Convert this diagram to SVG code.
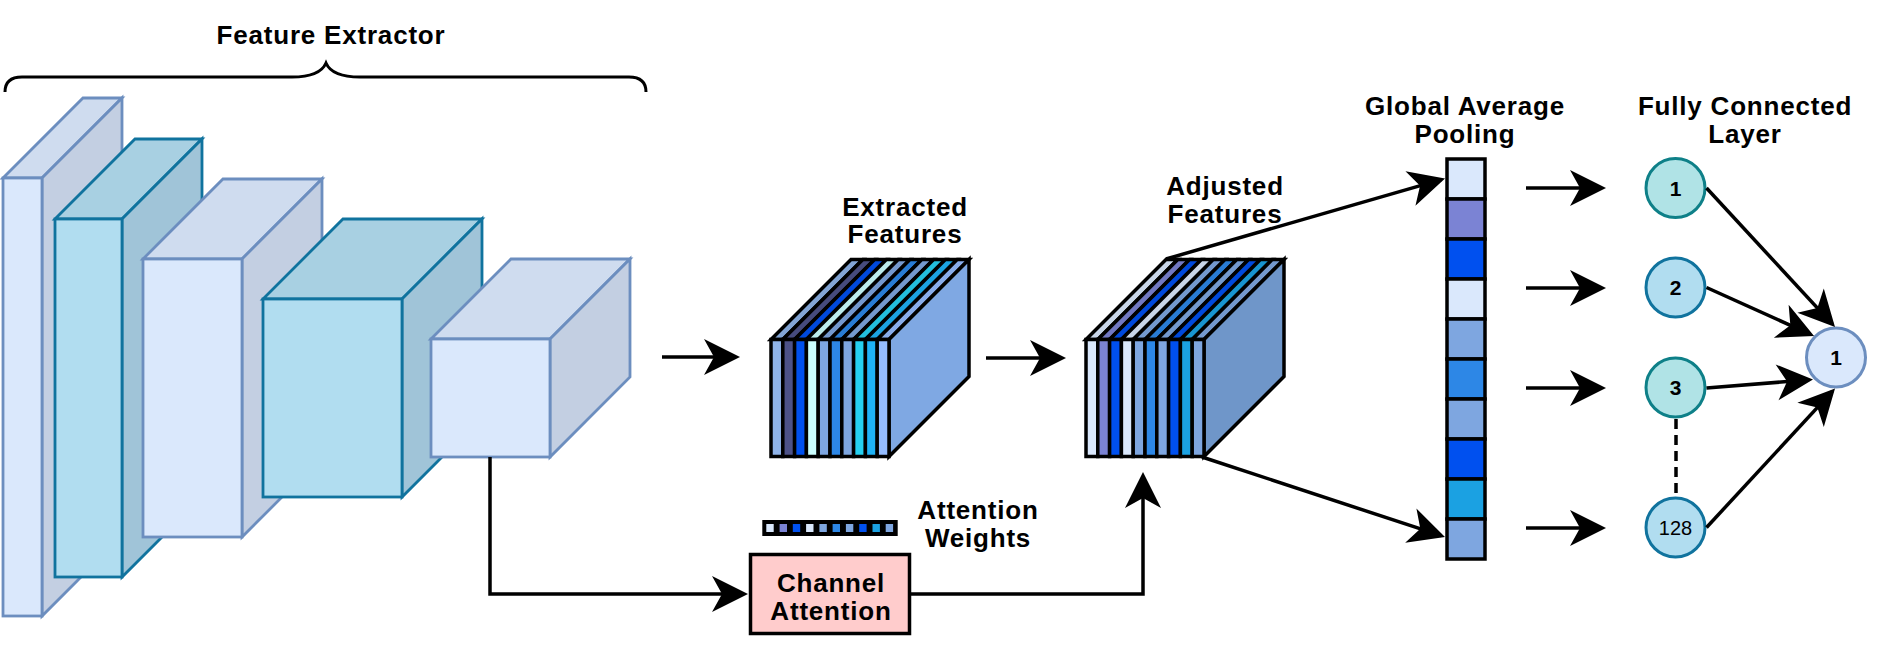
<svg xmlns="http://www.w3.org/2000/svg" width="1884" height="672" viewBox="0 0 1884 672">
<style>
.t{font-family:"Liberation Sans",Arial,Helvetica,sans-serif;font-weight:bold;font-size:26px;letter-spacing:0.8px;fill:#000;text-anchor:middle}
.n{font-family:"Liberation Sans",Arial,Helvetica,sans-serif;font-weight:bold;font-size:21px;fill:#000;text-anchor:middle}
.lf{fill:#dae8fc;stroke:#6c8ebf;stroke-width:2.8;stroke-linejoin:miter}
.lt{fill:#cfdcef;stroke:#6c8ebf;stroke-width:2.8}
.ls{fill:#c3cfe2;stroke:#6c8ebf;stroke-width:2.8}
.bf{fill:#b1ddf0;stroke:#10739e;stroke-width:2.8}
.bt{fill:#a8d0e2;stroke:#10739e;stroke-width:2.8}
.bs{fill:#a0c4d8;stroke:#10739e;stroke-width:2.8}
.st{stroke:#000;stroke-width:3.5;stroke-linejoin:miter}
.c{fill:none;stroke:#000;stroke-width:3.5;marker-end:url(#arr)}
</style>
<defs>
<marker id="arr" markerUnits="userSpaceOnUse" markerWidth="44" markerHeight="40" viewBox="-38 -20 44 40" refX="-4" refY="0" orient="auto" overflow="visible">
<path d="M0,0 L-36,-18 L-26,0 L-36,18 Z" fill="#000"/>
</marker>
</defs>
<rect width="1884" height="672" fill="#fff"/>

<g id="feature-extractor-label">
<text class="t" x="331" y="43.7">Feature Extractor</text>
<path d="M5,92 Q5,77 22,77 L292,77 Q320,77 326,63 Q332,77 360,77 L629,77 Q646,77 646,92" fill="none" stroke="#000" stroke-width="3"/>
</g>

<g id="cube1">
<polygon class="lt" points="3,178 83,98 122,98 42,178"/>
<polygon class="ls" points="42,178 122,98 122,536 42,616"/>
<rect class="lf" x="3" y="178" width="39" height="438"/>
</g>
<g id="cube2">
<polygon class="bt" points="55,219 135,139 202,139 122,219"/>
<polygon class="bs" points="122,219 202,139 202,497 122,577"/>
<rect class="bf" x="55" y="219" width="67" height="358"/>
</g>
<g id="cube3">
<polygon class="lt" points="143,259 223,179 322,179 242,259"/>
<polygon class="ls" points="242,259 322,179 322,457 242,537"/>
<rect class="lf" x="143" y="259" width="99" height="278"/>
</g>
<g id="cube4">
<polygon class="bt" points="263,299 343,219 482,219 402,299"/>
<polygon class="bs" points="402,299 482,219 482,417 402,497"/>
<rect class="bf" x="263" y="299" width="139" height="198"/>
</g>
<g id="cube5">
<polygon class="lt" points="431,339 511,259 630,259 550,339"/>
<polygon class="ls" points="550,339 630,259 630,377 550,457"/>
<rect class="lf" x="431" y="339" width="119" height="118"/>
</g>

<g id="extracted-features">
<text class="t" x="905" y="216">Extracted</text>
<text class="t" x="905" y="243.3">Features</text>
<g class="st">
<polygon fill="#8fb3e8" points="771,339.5 782.8,339.5 862.8,259.5 851,259.5"/>
<polygon fill="#4d5288" points="782.8,339.5 794.6,339.5 874.6,259.5 862.8,259.5"/>
<polygon fill="#0050ef" points="794.6,339.5 806.4,339.5 886.4,259.5 874.6,259.5"/>
<polygon fill="#ccffff" points="806.4,339.5 818.2,339.5 898.2,259.5 886.4,259.5"/>
<polygon fill="#7ea6e0" points="818.2,339.5 830,339.5 910,259.5 898.2,259.5"/>
<polygon fill="#2d87e6" points="830,339.5 841.8,339.5 921.8,259.5 910,259.5"/>
<polygon fill="#7ea6e0" points="841.8,339.5 853.6,339.5 933.6,259.5 921.8,259.5"/>
<polygon fill="#26d0f0" points="853.6,339.5 865.4,339.5 945.4,259.5 933.6,259.5"/>
<polygon fill="#1fb2f6" points="865.4,339.5 877.2,339.5 957.2,259.5 945.4,259.5"/>
<polygon fill="#94bcff" points="877.2,339.5 889,339.5 969,259.5 957.2,259.5"/>
</g>
<polygon points="771,339.5 889,339.5 969,259.5 851,259.5" fill="#000" fill-opacity="0.08"/>
<polygon class="st" fill="#7fa8e3" points="889,339.5 969,259.5 969,376.5 889,456.5"/>
<g class="st">
<rect fill="#8fb3e8" x="771" y="339.5" width="11.8" height="117"/>
<rect fill="#4d5288" x="782.8" y="339.5" width="11.8" height="117"/>
<rect fill="#0050ef" x="794.6" y="339.5" width="11.8" height="117"/>
<rect fill="#ccffff" x="806.4" y="339.5" width="11.8" height="117"/>
<rect fill="#7ea6e0" x="818.2" y="339.5" width="11.8" height="117"/>
<rect fill="#2d87e6" x="830" y="339.5" width="11.8" height="117"/>
<rect fill="#7ea6e0" x="841.8" y="339.5" width="11.8" height="117"/>
<rect fill="#26d0f0" x="853.6" y="339.5" width="11.8" height="117"/>
<rect fill="#1fb2f6" x="865.4" y="339.5" width="11.8" height="117"/>
<rect fill="#94bcff" x="877.2" y="339.5" width="11.8" height="117"/>
</g>
</g>

<g id="adjusted-features">
<text class="t" x="1225" y="195">Adjusted</text>
<text class="t" x="1225" y="223">Features</text>
<g transform="translate(315,0)">
<g class="st">
<polygon fill="#dae8fc" points="771,339.5 782.8,339.5 862.8,259.5 851,259.5"/>
<polygon fill="#7b83d4" points="782.8,339.5 794.6,339.5 874.6,259.5 862.8,259.5"/>
<polygon fill="#0050ef" points="794.6,339.5 806.4,339.5 886.4,259.5 874.6,259.5"/>
<polygon fill="#dae8fc" points="806.4,339.5 818.2,339.5 898.2,259.5 886.4,259.5"/>
<polygon fill="#7ea6e0" points="818.2,339.5 830,339.5 910,259.5 898.2,259.5"/>
<polygon fill="#2d87e6" points="830,339.5 841.8,339.5 921.8,259.5 910,259.5"/>
<polygon fill="#7ea6e0" points="841.8,339.5 853.6,339.5 933.6,259.5 921.8,259.5"/>
<polygon fill="#0050ef" points="853.6,339.5 865.4,339.5 945.4,259.5 933.6,259.5"/>
<polygon fill="#1ba1e2" points="865.4,339.5 877.2,339.5 957.2,259.5 945.4,259.5"/>
<polygon fill="#7ea6e0" points="877.2,339.5 889,339.5 969,259.5 957.2,259.5"/>
</g>
<polygon points="771,339.5 889,339.5 969,259.5 851,259.5" fill="#000" fill-opacity="0.08"/>
<polygon class="st" fill="#6f96c9" points="889,339.5 969,259.5 969,376.5 889,456.5"/>
<g class="st">
<rect fill="#dae8fc" x="771" y="339.5" width="11.8" height="117"/>
<rect fill="#7b83d4" x="782.8" y="339.5" width="11.8" height="117"/>
<rect fill="#0050ef" x="794.6" y="339.5" width="11.8" height="117"/>
<rect fill="#dae8fc" x="806.4" y="339.5" width="11.8" height="117"/>
<rect fill="#7ea6e0" x="818.2" y="339.5" width="11.8" height="117"/>
<rect fill="#2d87e6" x="830" y="339.5" width="11.8" height="117"/>
<rect fill="#7ea6e0" x="841.8" y="339.5" width="11.8" height="117"/>
<rect fill="#0050ef" x="853.6" y="339.5" width="11.8" height="117"/>
<rect fill="#1ba1e2" x="865.4" y="339.5" width="11.8" height="117"/>
<rect fill="#7ea6e0" x="877.2" y="339.5" width="11.8" height="117"/>
</g>
</g>
</g>

<g id="attention-weights">
<rect x="762.3" y="520" width="135.4" height="16" fill="#000"/>
<rect x="766.3" y="524" width="7.4" height="8" fill="#dae8fc"/>
<rect x="779.6" y="524" width="7.4" height="8" fill="#7b83d4"/>
<rect x="792.8" y="524" width="7.4" height="8" fill="#0050ef"/>
<rect x="806.1" y="524" width="7.4" height="8" fill="#dae8fc"/>
<rect x="819.4" y="524" width="7.4" height="8" fill="#7ea6e0"/>
<rect x="832.6" y="524" width="7.4" height="8" fill="#2d87e6"/>
<rect x="845.9" y="524" width="7.4" height="8" fill="#7ea6e0"/>
<rect x="859.2" y="524" width="7.4" height="8" fill="#0050ef"/>
<rect x="872.5" y="524" width="7.4" height="8" fill="#1ba1e2"/>
<rect x="885.7" y="524" width="7.4" height="8" fill="#7ea6e0"/>
<text class="t" x="978" y="519.3">Attention</text>
<text class="t" x="978" y="546.5">Weights</text>
</g>

<g id="channel-attention">
<rect x="750.5" y="554.5" width="159" height="79" fill="#ffcccc" stroke="#000" stroke-width="3.5"/>
<text class="t" x="831" y="591.7">Channel</text>
<text class="t" x="831" y="620">Attention</text>
</g>

<g id="global-average-pooling">
<text class="t" x="1465" y="115">Global Average</text>
<text class="t" x="1465" y="143">Pooling</text>
<g stroke="#000" stroke-width="3.5">
<rect x="1447" y="159" width="38" height="40" fill="#dae8fc"/>
<rect x="1447" y="199" width="38" height="40" fill="#7b83d4"/>
<rect x="1447" y="239" width="38" height="40" fill="#0050ef"/>
<rect x="1447" y="279" width="38" height="40" fill="#dae8fc"/>
<rect x="1447" y="319" width="38" height="40" fill="#7ea6e0"/>
<rect x="1447" y="359" width="38" height="40" fill="#2d87e6"/>
<rect x="1447" y="399" width="38" height="40" fill="#7ea6e0"/>
<rect x="1447" y="439" width="38" height="40" fill="#0050ef"/>
<rect x="1447" y="479" width="38" height="40" fill="#1ba1e2"/>
<rect x="1447" y="519" width="38" height="40" fill="#7ea6e0"/>
</g>
</g>

<g id="fully-connected-label">
<text class="t" x="1745" y="115">Fully Connected</text>
<text class="t" x="1745" y="143">Layer</text>
</g>
<g id="fc1">
<circle cx="1675.5" cy="188" r="29.5" fill="#b0e3e6" stroke="#0e8088" stroke-width="3"/>
<text class="n" x="1675.5" y="195.5">1</text>
</g>
<g id="fc2">
<circle cx="1675.5" cy="287.5" r="29.5" fill="#b1ddf0" stroke="#10739e" stroke-width="3"/>
<text class="n" x="1675.5" y="295">2</text>
</g>
<g id="fc3">
<circle cx="1675.5" cy="387.5" r="29.5" fill="#b0e3e6" stroke="#0e8088" stroke-width="3"/>
<text class="n" x="1675.5" y="395">3</text>
</g>
<g id="fc128">
<circle cx="1675.5" cy="527.5" r="29.5" fill="#b1ddf0" stroke="#10739e" stroke-width="3"/>
<text class="n" x="1675.5" y="534.8" style="font-weight:normal;font-size:20px">128</text>
</g>
<g id="output">
<circle cx="1836" cy="357.5" r="29.5" fill="#dae8fc" stroke="#6c8ebf" stroke-width="3"/>
<text class="n" x="1836" y="365">1</text>
</g>

<g id="connectors">
<path class="c" d="M662,357 H736"/>
<path class="c" d="M986,358 H1062"/>
<path class="c" d="M490,457 V594 H744"/>
<path class="c" d="M911,594 H1143 V476"/>
<path class="c" d="M1166,259 L1441.2,179.6"/>
<path class="c" d="M1202,457 L1441.2,535.7"/>
<path class="c" d="M1526,188 H1602"/>
<path class="c" d="M1526,288 H1602"/>
<path class="c" d="M1526,388 H1602"/>
<path class="c" d="M1526,528 H1602"/>
<path class="c" d="M1706.5,188 L1832.3,324.1"/>
<path class="c" d="M1706.5,287.5 L1810.4,334.4"/>
<path class="c" d="M1706.5,388 L1809,379.8"/>
<path class="c" d="M1706.5,527.5 L1832.3,391.4"/>
<path d="M1676,419 V497" fill="none" stroke="#000" stroke-width="3.5" stroke-dasharray="10 6"/>
</g>
</svg>
